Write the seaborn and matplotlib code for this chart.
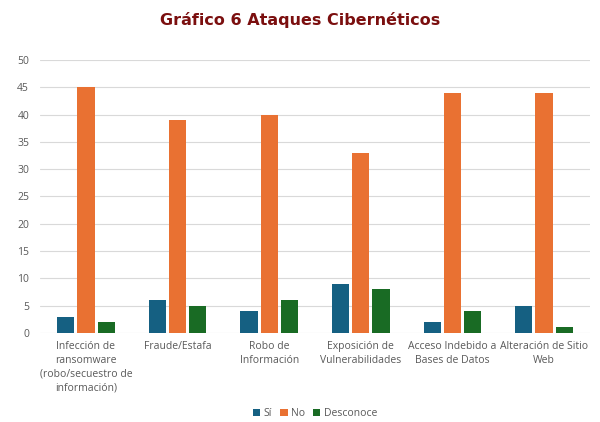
import matplotlib
matplotlib.use("Agg")
import matplotlib.pyplot as plt
import seaborn as sns
import pandas as pd

categories = ["Infección de\nransomware\n(robo/secuestro de\ninformación)",
              "Fraude/Estafa",
              "Robo de\nInformación",
              "Exposición de\nVulnerabilidades",
              "Acceso Indebido a\nBases de Datos",
              "Alteración de Sitio\nWeb"]
series_names = ["Sí", "No", "Desconoce"]
si_values = [3, 6, 4, 9, 2, 5]
no_values = [45, 39, 40, 33, 44, 44]
desconoce_values = [2, 5, 6, 8, 4, 1]
colors = ["#156082", "#E97132", "#196B24"]

rows = []
for name, vals in zip(series_names, [si_values, no_values, desconoce_values]):
    for c, v in zip(categories, vals):
        rows.append({"cat": c, "serie": name, "valor": v})
df = pd.DataFrame(rows)

sns.set_theme(style="white")
plt.rcParams['font.family'] = ['Open Sans', 'DejaVu Sans']

fig = plt.figure(figsize=(6, 4.22), dpi=100)
ax = fig.add_axes([0.067, 0.211, 0.916, 0.647])
sns.barplot(data=df, x="cat", y="valor", hue="serie", hue_order=series_names,
            palette=colors, saturation=1, width=0.66, gap=0.15, linewidth=0,
            ax=ax, legend=True)

ax.set_ylim(0, 50)
ax.set_yticks(range(0, 51, 5))
ax.yaxis.grid(True, color="#D9D9D9", linewidth=0.8)
ax.set_axisbelow(True)
for s in ax.spines.values():
    s.set_visible(False)
ax.set_xlabel("")
ax.set_ylabel("")
ax.tick_params(axis="both", length=0, colors="#595959", labelsize=7.5)
ax.tick_params(axis="y", pad=8)
ax.tick_params(axis="x", pad=6)
for lbl in ax.get_xticklabels():
    lbl.set_linespacing(1.35)

leg = ax.legend(loc="upper center", bbox_to_anchor=(0.5, -0.24), ncol=3,
                frameon=False, fontsize=7.5, handlelength=0.7, handleheight=0.7,
                handletextpad=0.3, columnspacing=0.8)
for t in leg.get_texts():
    t.set_color("#595959")

fig.text(0.5, 0.952, "Gráfico 6 Ataques Cibernéticos", ha="center", va="center",
         fontsize=11.5, fontweight="bold", color="#7B0F0F",
         family=["DejaVu Sans"])

fig.savefig("out.png", dpi=100)
